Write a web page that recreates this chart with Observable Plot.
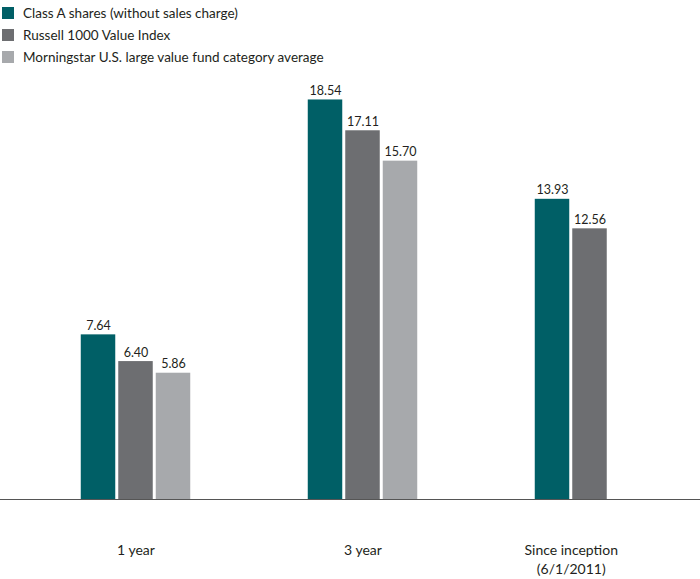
<!DOCTYPE html>
<html>
<head>
<meta charset="utf-8">
<script src="https://cdn.jsdelivr.net/npm/d3@7"></script>
<script src="https://cdn.jsdelivr.net/npm/@observablehq/plot@0.6"></script>
<style>
  html, body { margin: 0; padding: 0; background: #fff; }
  body { width: 700px; font-family: "Lato", sans-serif; color: #231f20; overflow: hidden; }
  #legend { padding: 2px 0 0 2px; height: 64px; }
  .item { display: flex; align-items: center; height: 22px; font-size: 13.5px; }
  .sw { width: 12px; height: 12px; margin-right: 9px; flex: none; }
</style>
</head>
<body>
<div id="legend"></div>
<div id="chart"></div>
<script>
const categories = ["1 year", "3 year", "Since inception\n(6/1/2011)"];
const series = ["Class A shares (without sales charge)", "Russell 1000 Value Index", "Morningstar U.S. large value fund category average"];
const classA = [7.64, 18.54, 13.93];
const russell = [6.40, 17.11, 12.56];
const morningstar = [5.86, 15.70, null];
const colors = ["#005f66", "#6d6e71", "#a7a9ac"];

const seriesValues = [classA, russell, morningstar];
const data = [];
const labels = [];
categories.forEach((c, i) => {
  const idx = [];
  series.forEach((s, j) => {
    const v = seriesValues[j][i];
    if (v != null) { data.push({category: c, series: s, idx: j, value: v}); idx.push(j); }
  });
  labels.push({category: c, pos: d3.mean(idx) + 0.5});
});

const legend = document.getElementById("legend");
series.forEach((s, j) => {
  const d = document.createElement("div");
  d.className = "item";
  d.innerHTML = `<span class="sw" style="background:${colors[j]}"></span><span>${s}</span>`;
  legend.appendChild(d);
});

const chart = Plot.plot({
  width: 700,
  height: 513,
  marginLeft: 0,
  marginRight: 0,
  marginTop: 2,
  marginBottom: 80,
  style: {fontFamily: '"Lato", sans-serif', color: "#231f20", background: "#fff", overflow: "hidden"},
  fx: {domain: categories, range: [21.5, 702.5], padding: 0, axis: null, label: null},
  x: {domain: [-1.527, 4.527], axis: null},
  y: {domain: [0, 20], axis: null},
  color: {domain: series, range: colors},
  marks: [
    Plot.rectY(data, {fx: "category", x: "idx", interval: 1, y: "value", fill: "series", insetLeft: 1.5, insetRight: 1.5}),
    Plot.text(data, {fx: "category", x: d => d.idx + 0.5, y: "value", text: d => d.value.toFixed(2), dy: -9, fontSize: 12.5, fill: "#231f20"}),
    Plot.ruleY([0], {stroke: "#555", strokeWidth: 1.2, insetLeft: -23, insetRight: -3}),
    Plot.text(labels, {fx: "category", x: "pos", y: 0, text: "category", lineAnchor: "top", dy: 43, fontSize: 14, lineHeight: 1.3, fill: "#231f20"})
  ]
});
document.getElementById("chart").appendChild(chart);
</script>
</body>
</html>
